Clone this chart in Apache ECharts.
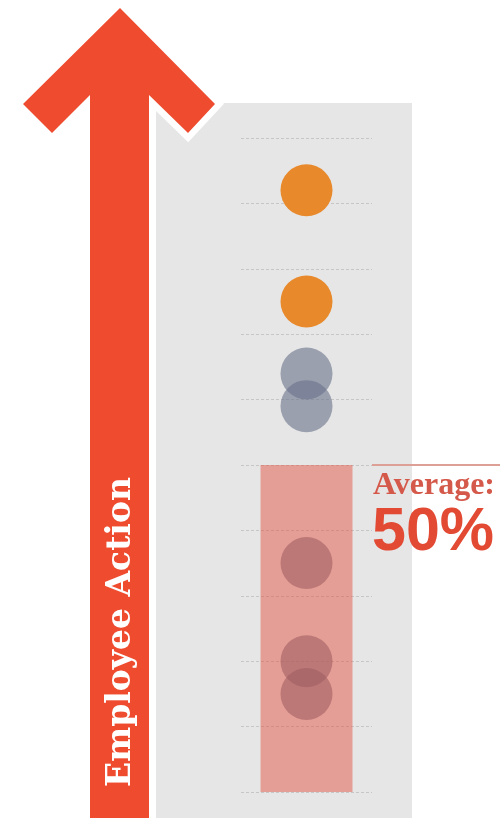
<!DOCTYPE html>
<html>
<head>
<meta charset="utf-8">
<script src="https://cdn.jsdelivr.net/npm/echarts@6/dist/echarts.min.js"></script>
<style>
	html, body { margin: 0; padding: 0; background: #fff; }
	#chart { width: 500px; height: 818px; }
</style>
</head>
<body>
<div id="chart"></div>
<script>
// data
const categories = ['A'];
const orangeValues = [92, 75];
const grayValues = [64, 59, 35, 20, 15];
const averageValue = [50];
const yTicks = [0, 10, 20, 30, 40, 50, 60, 70, 80, 90, 100];

const red = '#ee4b2f';
const arrowPoints = [
	[120, 8], [215, 104], [188, 133], [149, 95], [149, 830],
	[90, 830], [90, 95], [52, 133], [23, 104]
];

let myChart = echarts.init(document.getElementById('chart'));
let option = {
	animation: false,
	grid: [
		{ left: 241, right: 128, top: 138, bottom: 26 },
		// gray panel behind the plot
		{ left: 156, top: 103, width: 256, bottom: -10, show: true, backgroundColor: '#e6e6e6', borderWidth: 0 }
	],
	xAxis: [
		{
			type: 'category',
			gridIndex: 0,
			data: categories,
			axisLine: { show: false },
			axisTick: { show: false },
			axisLabel: { show: false }
		},
		{ type: 'value', gridIndex: 1, show: false, splitLine: { show: false } }
	],
	yAxis: [
		{
			type: 'value',
			gridIndex: 0,
			min: yTicks[0],
			max: yTicks[yTicks.length - 1],
			interval: 10,
			axisLine: { show: false },
			axisTick: { show: false },
			axisLabel: { show: false },
			splitLine: { lineStyle: { color: '#c6c6c6', type: [3, 2], width: 1 } }
		},
		{ type: 'value', gridIndex: 1, show: false, splitLine: { show: false } }
	],
	graphic: [
		// arrow with white outline
		{ id: 'arrowOutline', type: 'polygon', z: 50, shape: { points: arrowPoints }, style: { fill: red, stroke: '#fff', lineWidth: 13, lineJoin: 'miter' } },
		{ id: 'arrow', type: 'polygon', z: 51, shape: { points: arrowPoints }, style: { fill: red } },
		{
			id: 'arrowText', type: 'text', z: 52, x: 121, y: 632, rotation: Math.PI / 2,
			style: {
				text: 'Employee Action', fill: '#fff',
				font: 'bold 33px "DejaVu Serif"',
				textAlign: 'center', textVerticalAlign: 'middle'
			}
		},
		{
			id: 'avgLabel', type: 'text', z: 52, x: 373, y: 486,
			style: {
				text: 'Average:', fill: '#d4594b',
				font: 'bold 32px "Liberation Serif"',
				textAlign: 'left', textVerticalAlign: 'middle'
			}
		},
		{
			id: 'avgValue', type: 'text', z: 52, x: 372, y: 533,
			style: {
				text: '50%', fill: '#e24a34',
				font: 'bold 61px "Liberation Sans"',
				textAlign: 'left', textVerticalAlign: 'middle'
			}
		}
	],
	series: [
		{
			name: 'orange',
			type: 'scatter',
			z: 3,
			symbolSize: 52,
			itemStyle: { color: '#e8892b', opacity: 1 },
			data: orangeValues.map(v => [categories[0], v])
		},
		{
			name: 'gray',
			type: 'scatter',
			z: 3,
			symbolSize: 52,
			itemStyle: { color: '#69728a', opacity: 0.6 },
			data: grayValues.map(v => [categories[0], v])
		},
		{
			name: 'average',
			type: 'bar',
			z: 5,
			barWidth: 92,
			itemStyle: { color: 'rgba(228,70,52,0.45)' },
			data: averageValue
		}
	]
};
myChart.setOption(option);

// average line to the right of the panel
const avgY = myChart.convertToPixel({ yAxisIndex: 0 }, averageValue[0]);
myChart.setOption({
	graphic: [{
		id: 'avgLine', type: 'line', z: 52,
		shape: { x1: 372, y1: avgY, x2: 500, y2: avgY },
		style: { stroke: '#dca096', lineWidth: 2 }
	}]
});
</script>
</body>
</html>
